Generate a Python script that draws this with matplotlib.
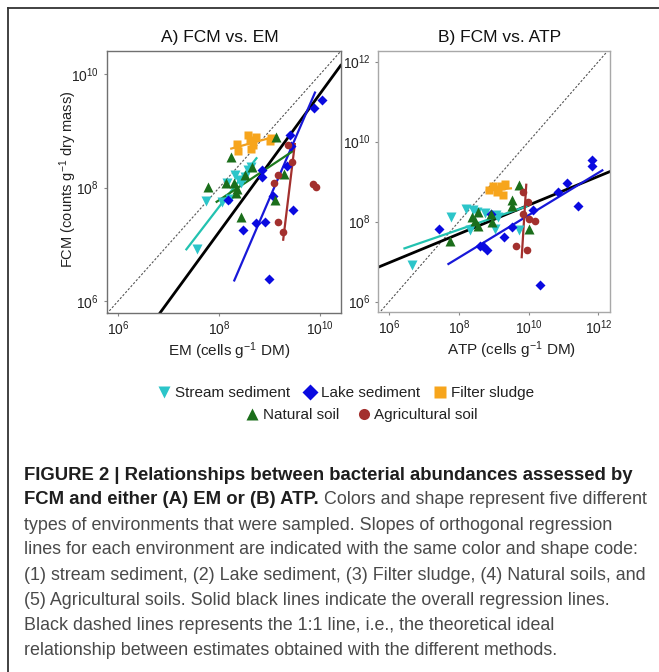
import numpy as np
import matplotlib
matplotlib.use("Agg")
from matplotlib import pyplot as plt
from matplotlib.lines import Line2D

plt.rcParams['font.family'] = ['Liberation Sans', 'DejaVu Sans']
plt.rcParams['mathtext.fontset'] = 'custom'
plt.rcParams['mathtext.rm'] = 'Liberation Sans'
plt.rcParams['mathtext.it'] = 'Liberation Sans:italic'
plt.rcParams['mathtext.bf'] = 'Liberation Sans:bold'

# all values are log10 (cells or counts per g)
# panel A: FCM vs EM
a_stream_x = [7.57, 7.74, 8.05, 8.15, 8.22, 8.31, 8.44, 8.51, 8.57, 8.64, 8.40]
a_stream_y = [6.91, 7.77, 7.75, 8.08, 7.80, 8.22, 8.08, 8.19, 8.31, 8.37, 8.14]
a_lake_x = [8.18, 8.48, 8.74, 8.90, 8.84, 8.84, 9.07, 8.99, 9.35, 9.40, 9.42, 9.47, 9.89, 10.03]
a_lake_y = [7.79, 7.26, 7.37, 7.40, 8.32, 8.18, 7.85, 6.38, 8.38, 8.93, 8.74, 7.61, 9.40, 9.54]
a_sludge_x = [8.36, 8.38, 8.57, 8.61, 8.67, 8.73, 8.64, 9.02, 9.00]
a_sludge_y = [8.78, 8.64, 8.93, 8.84, 8.75, 8.90, 8.69, 8.87, 8.83]
a_natural_x = [7.78, 8.13, 8.24, 8.30, 8.33, 8.35, 8.44, 8.52, 8.66, 9.10, 9.12, 9.28]
a_natural_y = [8.02, 8.08, 8.54, 8.08, 7.90, 7.98, 7.49, 8.22, 8.37, 7.78, 8.90, 8.24]
a_agri_x = [9.09, 9.17, 9.17, 9.27, 9.37, 9.45, 9.87, 9.93]
a_agri_y = [8.09, 8.22, 7.39, 7.22, 8.75, 8.46, 8.06, 8.02]

# regression line ends (x pair, y pair)
a_fit_stream = ([7.35, 8.74], [6.91, 8.52])
a_fit_lake = ([8.30, 9.90], [6.36, 9.68])
a_fit_sludge = ([8.24, 9.14], [8.69, 8.91])
a_fit_natural = ([7.95, 9.47], [7.75, 8.65])
a_fit_agri = ([9.27, 9.50], [7.08, 8.77])
a_fit_all = ([6.83, 10.41], [5.79, 10.16])
a_xlim = [5.77, 10.41]
a_ylim = [5.79, 10.42]

# panel B: FCM vs ATP
b_stream_x = [6.65, 7.78, 8.21, 8.32, 8.40, 8.51, 8.75, 9.04, 9.07, 9.13, 9.73]
b_stream_y = [6.92, 8.11, 8.32, 7.79, 8.29, 8.25, 8.22, 7.81, 8.17, 8.12, 7.78]
b_lake_x = [7.44, 8.61, 8.68, 8.80, 8.92, 9.30, 9.53, 10.12, 10.31, 10.85, 11.09, 11.42, 11.81, 11.81]
b_lake_y = [7.81, 7.38, 7.40, 7.29, 8.18, 7.61, 7.86, 8.29, 6.42, 8.75, 8.96, 8.40, 9.40, 9.53]
b_sludge_x = [8.87, 8.99, 9.08, 9.11, 9.21, 9.25, 9.32]
b_sludge_y = [8.78, 8.88, 8.75, 8.81, 8.90, 8.67, 8.93]
b_natural_x = [7.75, 8.37, 8.46, 8.56, 8.56, 8.91, 8.94, 9.51, 9.51, 9.72, 10.0]
b_natural_y = [7.52, 8.11, 8.02, 7.89, 8.25, 8.19, 8.00, 8.54, 8.38, 8.92, 7.81]
b_agri_x = [9.64, 9.83, 9.85, 9.94, 9.99, 10.01, 10.18]
b_agri_y = [7.39, 8.19, 8.75, 7.29, 8.50, 8.06, 8.02]

b_fit_stream = ([6.44, 9.94], [7.33, 8.38])
b_fit_lake = ([7.70, 12.11], [6.94, 9.28])
b_fit_sludge = ([8.80, 9.49], [8.77, 8.83])
b_fit_agri = ([9.80, 9.93], [7.11, 8.92])
b_fit_all = ([5.69, 12.33], [6.86, 9.25])
b_xlim = [5.69, 12.33]
b_ylim = [5.74, 12.27]

groups = ['Stream sediment', 'Lake sediment', 'Filter sludge', 'Natural soil', 'Agricultural soil']
colors = {'Stream sediment': '#2cc5c9', 'Lake sediment': '#0a0ae0', 'Filter sludge': '#f7a51c',
          'Natural soil': '#1b6e1b', 'Agricultural soil': '#a3302e'}
line_colors = {'Stream sediment': '#22c2b0', 'Lake sediment': '#1818d8', 'Filter sludge': '#f0a020',
               'Natural soil': '#1d7a1d', 'Agricultural soil': '#a3302e'}
markers = {'Stream sediment': 'v', 'Lake sediment': 'D', 'Filter sludge': 's',
           'Natural soil': '^', 'Agricultural soil': 'o'}

fig = plt.figure(figsize=(6.59, 6.72), dpi=100)
W, H = 659.0, 672.0

axA = fig.add_axes([106.7 / W, 1 - 312.7 / H, 234.0 / W, 262.0 / H])
axB = fig.add_axes([378.3 / W, 1 - 312.0 / H, 231.7 / W, 261.3 / H])


def draw_panel(ax, pts, fits, xlim, ylim, spine_col):
    lo = min(xlim[0], ylim[0])
    hi = max(xlim[1], ylim[1])
    ax.plot(10 ** np.array([lo, hi]), 10 ** np.array([lo, hi]), color='#555555',
            lw=0.8, ls=(0, (2, 1.6)), zorder=1)
    for g in groups:
        if g in fits:
            fx, fy = fits[g]
            ax.plot(10 ** np.array(fx), 10 ** np.array(fy), color=line_colors[g], lw=1.6, zorder=3)
    fx, fy = fits['all']
    ax.plot(10 ** np.array(fx), 10 ** np.array(fy), color='black', lw=2.0, zorder=2)
    for g in groups:
        x, y = pts[g]
        ms = 5.5 if markers[g] in ('D', 'o', 's') else 6.5
        ax.plot(10 ** np.array(x), 10 ** np.array(y), ls='none', marker=markers[g],
                color=colors[g], ms=ms, mec='none', zorder=4)
    ax.set_xscale('log')
    ax.set_yscale('log')
    ax.set_xlim(10 ** xlim[0], 10 ** xlim[1])
    ax.set_ylim(10 ** ylim[0], 10 ** ylim[1])
    ax.xaxis.set_minor_locator(plt.NullLocator())
    ax.yaxis.set_minor_locator(plt.NullLocator())
    for s in ax.spines.values():
        s.set_color(spine_col)
        s.set_linewidth(1.0)
    ax.tick_params(length=2.5, width=0.8, color='#888888', labelsize=10, labelcolor='#222222', pad=3)
    ax.tick_params(axis='x', pad=2)


draw_panel(axA,
           {'Stream sediment': (a_stream_x, a_stream_y), 'Lake sediment': (a_lake_x, a_lake_y),
            'Filter sludge': (a_sludge_x, a_sludge_y), 'Natural soil': (a_natural_x, a_natural_y),
            'Agricultural soil': (a_agri_x, a_agri_y)},
           {'Stream sediment': a_fit_stream, 'Lake sediment': a_fit_lake, 'Filter sludge': a_fit_sludge,
            'Natural soil': a_fit_natural, 'Agricultural soil': a_fit_agri, 'all': a_fit_all},
           a_xlim, a_ylim, '#707070')
axA.set_xticks([1e6, 1e8, 1e10])
axA.set_yticks([1e6, 1e8, 1e10])
axA.set_title('A) FCM vs. EM', fontsize=12.5, pad=6, color='#111111')
axA.title.set_x(0.484)
axA.set_xlabel('EM (cells g$^{-1}$ DM)', fontsize=11, color='#222222')
axA.xaxis.set_label_coords(0.523, -0.104)
axA.set_ylabel('FCM (counts g$^{-1}$ dry mass)', fontsize=10.5, color='#222222')
axA.yaxis.set_label_coords(-0.12, 0.51)

draw_panel(axB,
           {'Stream sediment': (b_stream_x, b_stream_y), 'Lake sediment': (b_lake_x, b_lake_y),
            'Filter sludge': (b_sludge_x, b_sludge_y), 'Natural soil': (b_natural_x, b_natural_y),
            'Agricultural soil': (b_agri_x, b_agri_y)},
           {'Stream sediment': b_fit_stream, 'Lake sediment': b_fit_lake, 'Filter sludge': b_fit_sludge,
            'Agricultural soil': b_fit_agri, 'all': b_fit_all},
           b_xlim, b_ylim, '#a8a8a8')
axB.set_xticks([1e6, 1e8, 1e10, 1e12])
axB.set_yticks([1e6, 1e8, 1e10, 1e12])
axB.set_title('B) FCM vs. ATP', fontsize=12.5, pad=6, color='#111111')
axB.title.set_x(0.525)
axB.set_xlabel('ATP (cells g$^{-1}$ DM)', fontsize=11, color='#222222')
axB.xaxis.set_label_coords(0.573, -0.106)


def handle(g):
    return Line2D([], [], ls='none', marker=markers[g], color=colors[g], ms=9 if markers[g] in 'v^' else 8,
                  mec='none')


row1 = groups[:3]
row2 = groups[3:]
fig.legend([handle(g) for g in row1], row1, loc='center', bbox_to_anchor=(346 / W, 1 - 393 / H),
           ncol=3, frameon=False, fontsize=11, handlelength=0.8, handletextpad=0.3,
           columnspacing=0.9, borderpad=0, labelcolor='#222222')
fig.legend([handle(g) for g in row2], row2, loc='center', bbox_to_anchor=(362 / W, 1 - 415 / H),
           ncol=2, frameon=False, fontsize=11, handlelength=0.8, handletextpad=0.3,
           columnspacing=1.2, borderpad=0, labelcolor='#222222')

# outer frame (top and left edges)
fig.add_artist(Line2D([8 / W, 1.0], [1 - 8 / H, 1 - 8 / H], transform=fig.transFigure,
                      color='#333333', lw=1.3))
fig.add_artist(Line2D([8 / W, 8 / W], [0.0, 1 - 8 / H], transform=fig.transFigure,
                      color='#333333', lw=1.3))

# caption
cap_x = 24 / W
cap_fs = 12.9
bold_fs = 13.3
line_y = [475, 500, 525, 550, 575.5, 600.5, 626, 650.5]
bold_col = '#1e1e1e'
text_col = '#4a4a4a'
fig.text(cap_x, 1 - line_y[0] / H, 'FIGURE 2 | Relationships between bacterial abundances assessed by',
         fontsize=bold_fs, weight='bold', color=bold_col, va='center')
t_bold = fig.text(cap_x, 1 - line_y[1] / H, 'FCM and either (A) EM or (B) ATP.',
                  fontsize=bold_fs, weight='bold', color=bold_col, va='center')
renderer = fig.canvas.get_renderer()
bb = t_bold.get_window_extent(renderer)
fig.text(bb.x1 / fig.bbox.width, 1 - line_y[1] / H, ' Colors and shape represent five different',
         fontsize=cap_fs, color=text_col, va='center')
rest = [
    'types of environments that were sampled. Slopes of orthogonal regression',
    'lines for each environment are indicated with the same color and shape code:',
    '(1) stream sediment, (2) Lake sediment, (3) Filter sludge, (4) Natural soils, and',
    '(5) Agricultural soils. Solid black lines indicate the overall regression lines.',
    'Black dashed lines represents the 1:1 line, i.e., the theoretical ideal',
    'relationship between estimates obtained with the different methods.',
]
for s, yy in zip(rest, line_y[2:]):
    fig.text(cap_x, 1 - yy / H, s, fontsize=cap_fs, color=text_col, va='center')

fig.savefig('out.png', dpi=100)
